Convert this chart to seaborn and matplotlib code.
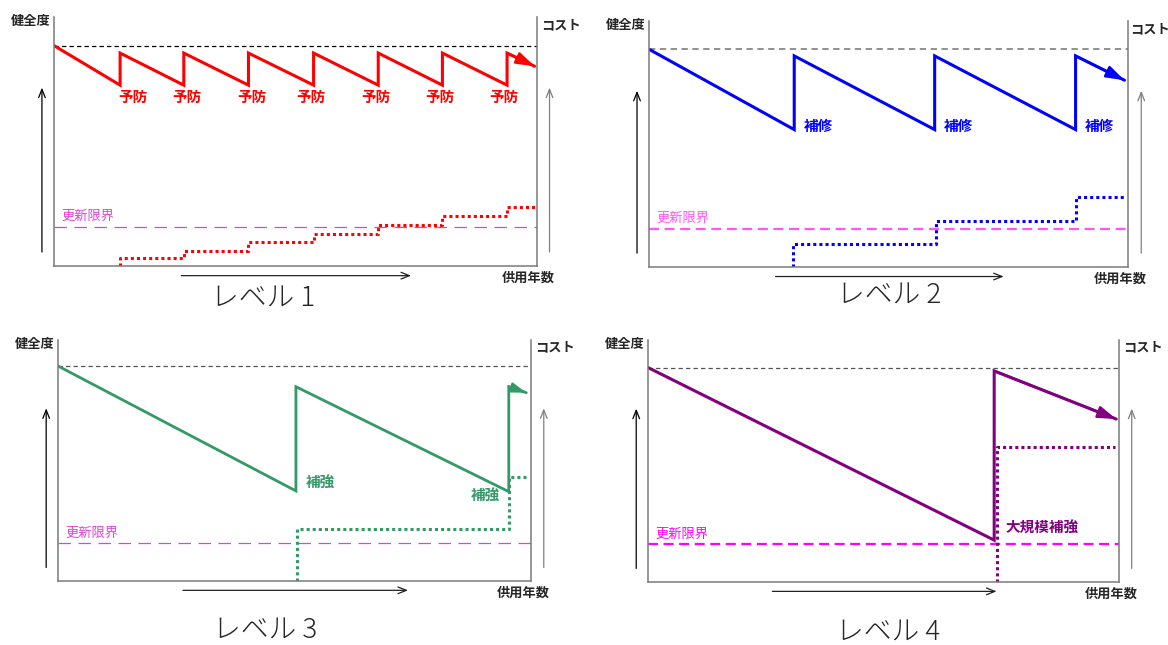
"""
plot.py
-------
Four schematic panels (レベル 1-4) showing how a structure's health (健全度)
falls over its service life (供用年数) and how maintenance resets it, with the
matching cumulative cost (コスト) drawn as a dotted step line.
"""

import matplotlib

matplotlib.use("Agg")
import matplotlib.pyplot as plt
import seaborn as sns

OUT_PATH = "out.png"
FIG_W, FIG_H = 1168, 645

# --- Level 1: frequent preventive maintenance (予防) ---
L1_HEALTH_X = [0, .137, .137, .269, .269, .403, .403, .538, .538, .672, .672, .805, .805, .939, .939, .996]
L1_HEALTH_Y = [.885, .726, .855, .726, .855, .726, .855, .726, .855, .726, .855, .726, .855, .726, .855, .802]
L1_COST_X = [.137, .137, .269, .403, .538, .672, .805, .939, .996]
L1_COST_Y = [0, .029, .060, .094, .127, .163, .201, .237, .237]
L1_LABEL = "予防"
L1_LABEL_X = [.133, .245, .380, .502, .637, .769, .903]
L1_LABEL_Y = [.679] * 7
L1_TOP, L1_LIMIT = .885, .154

# --- Level 2: repair (補修) ---
L2_HEALTH_X = [0, .303, .303, .596, .596, .890, .890, .992]
L2_HEALTH_Y = [.885, .558, .858, .558, .858, .558, .858, .759]
L2_COST_X = [.300, .300, .598, .890, .996]
L2_COST_Y = [0, .092, .188, .285, .285]
L2_LABEL = "補修"
L2_LABEL_X = [.323, .616, .910]
L2_LABEL_Y = [.572] * 3
L2_TOP, L2_LIMIT = .885, .153

# --- Level 3: strengthening (補強) ---
L3_HEALTH_X = [0, .503, .503, .953, .953, .990]
L3_HEALTH_Y = [.892, .373, .806, .370, .806, .781]
L3_COST_X = [.505, .505, .953, .990]
L3_COST_Y = [0, .213, .429, .429]
L3_LABEL = "補強"
L3_LABEL_X = [.524, .873]
L3_LABEL_Y = [.409, .356]
L3_TOP, L3_LIMIT = .892, .155

# --- Level 4: large-scale strengthening (大規模補強) ---
L4_HEALTH_X = [0, .735, .735, .994]
L4_HEALTH_Y = [.886, .172, .872, .673]
L4_COST_X = [.741, .741, .992]
L4_COST_Y = [0, .559, .559]
L4_LABEL = "大規模補強"
L4_LABEL_X = [.758]
L4_LABEL_Y = [.225]
L4_TOP, L4_LIMIT = .886, .154

TITLES = ["レベル 1", "レベル 2", "レベル 3", "レベル 4"]
Y_LABEL, COST_LABEL, X_LABEL, LIMIT_LABEL = "健全度", "コスト", "供用年数", "更新限界"


def draw_panel(fig, box, p):
    """box = (left, top, right, bottom) of the spines in figure pixels."""
    left, top, right, bottom = box
    ax = fig.add_axes([left / FIG_W, 1 - bottom / FIG_H,
                       (right - left) / FIG_W, (bottom - top) / FIG_H])
    ax.set_xlim(0, 1)
    ax.set_ylim(0, 1)
    ax.set_xticks([])
    ax.set_yticks([])
    ax.set_xlabel("")
    ax.set_ylabel("")
    ax.spines["top"].set_visible(False)
    for side in ("left", "right", "bottom"):
        ax.spines[side].set_color("#7a7a7a")
        ax.spines[side].set_linewidth(1.1)

    # initial-health reference and renewal threshold
    ax.axhline(p["top"], color=p["top_color"], lw=p["top_lw"], ls=(0, (3.5, 2.5)))
    ax.axhline(p["limit"], color=p["limit_color"], lw=p["limit_lw"], ls=p["limit_ls"])

    c = p["color"]
    sns.lineplot(x=p["hx"], y=p["hy"], ax=ax, color=c, lw=p["lw"], estimator=None,
                 sort=False, errorbar=None, solid_joinstyle="miter")
    sns.lineplot(x=p["cx"], y=p["cy"], ax=ax, color=c, lw=2.2, estimator=None,
                 sort=False, errorbar=None, drawstyle="steps-post", linestyle=(0, (1, 1)))
    head = p["head"]
    ax.annotate("", xy=(p["hx"][-1], p["hy"][-1]), xytext=(p["hx"][-2], p["hy"][-2]),
                arrowprops=dict(arrowstyle=f"-|>,head_length={head},head_width={head * 0.33}",
                                color=c, lw=p["lw"] * 0.8, shrinkA=0, shrinkB=0,
                                mutation_scale=20))

    for lx, ly in zip(p["label_x"], p["label_y"]):
        ax.text(lx, ly, p["label"], color=c, fontsize=10.5, fontweight="bold",
                ha="left", va="center")
    ax.text(0.016, p["limit"] + 0.043, LIMIT_LABEL, color=p["limit_color"],
            fontsize=9.5, ha="left", va="center")

    # axis captions outside the box
    ax.text(-0.008, 0.982, Y_LABEL, transform=ax.transAxes, fontsize=9.5,
            fontweight="bold", ha="right", va="center")
    ax.text(p["cost_x"], 0.968, COST_LABEL, transform=ax.transAxes, fontsize=9.5,
            fontweight="bold", ha="left", va="center")
    ax.text(0.984, -0.05, X_LABEL, transform=ax.transAxes, fontsize=9.5,
            fontweight="bold", ha="center", va="center")
    ax.text(p["title_x"], p["title_y"], p["title"], transform=ax.transAxes,
            fontsize=20, fontweight="light", ha="center", va="center")

    # direction arrows around the box
    arrow = dict(arrowstyle="->,head_length=0.5,head_width=0.2", lw=0.9, shrinkA=0, shrinkB=0)
    ax.annotate("", xy=(-0.025, 0.716), xytext=(-0.025, 0.055), xycoords="axes fraction",
                arrowprops=dict(arrow, color="black"), annotation_clip=False)
    ax.annotate("", xy=(1.027, 0.716), xytext=(1.027, 0.055), xycoords="axes fraction",
                arrowprops=dict(arrow, color="#808080"), annotation_clip=False)
    ax.annotate("", xy=(0.740, -0.04), xytext=(0.264, -0.04), xycoords="axes fraction",
                arrowprops=dict(arrow, color="#222222"), annotation_clip=False)
    return ax


def main():
    sns.set_theme(style="white")
    plt.rcParams["font.family"] = ["Noto Sans CJK JP", "DejaVu Sans"]

    panels = [
        dict(hx=L1_HEALTH_X, hy=L1_HEALTH_Y, cx=L1_COST_X, cy=L1_COST_Y,
             label=L1_LABEL, label_x=L1_LABEL_X, label_y=L1_LABEL_Y,
             top=L1_TOP, limit=L1_LIMIT, color="#ff0000", lw=2.2, head=0.55,
             top_color="black", top_lw=0.9,
             limit_color="#e040e0", limit_lw=0.9, limit_ls=(0, (10, 6)),
             title=TITLES[0], title_x=0.433, title_y=-0.13, cost_x=1.009),
        dict(hx=L2_HEALTH_X, hy=L2_HEALTH_Y, cx=L2_COST_X, cy=L2_COST_Y,
             label=L2_LABEL, label_x=L2_LABEL_X, label_y=L2_LABEL_Y,
             top=L2_TOP, limit=L2_LIMIT, color="#0000ff", lw=2.2, head=0.55,
             top_color="#888888", top_lw=1.3,
             limit_color="#ff55ff", limit_lw=1.6, limit_ls=(0, (4.5, 2.5)),
             title=TITLES[1], title_x=0.50, title_y=-0.115, cost_x=1.003),
        dict(hx=L3_HEALTH_X, hy=L3_HEALTH_Y, cx=L3_COST_X, cy=L3_COST_Y,
             label=L3_LABEL, label_x=L3_LABEL_X, label_y=L3_LABEL_Y,
             top=L3_TOP, limit=L3_LIMIT, color="#339966", lw=2.0, head=0.45,
             top_color="#555555", top_lw=0.9,
             limit_color="#e040e0", limit_lw=0.9, limit_ls=(0, (10, 6)),
             title=TITLES[2], title_x=0.437, title_y=-0.205, cost_x=1.009),
        dict(hx=L4_HEALTH_X, hy=L4_HEALTH_Y, cx=L4_COST_X, cy=L4_COST_Y,
             label=L4_LABEL, label_x=L4_LABEL_X, label_y=L4_LABEL_Y,
             top=L4_TOP, limit=L4_LIMIT, color="#800080", lw=2.2, head=0.55,
             top_color="#555555", top_lw=0.9,
             limit_color="#ff00ff", limit_lw=1.6, limit_ls=(0, (4.5, 2.5)),
             title=TITLES[3], title_x=0.51, title_y=-0.207, cost_x=1.009),
    ]
    # spine boxes (left, top, right, bottom) in figure pixels
    boxes = [(54, 17, 536.5, 265.7), (649, 21, 1128.3, 266.7),
             (58, 340, 531, 580.7), (648, 340, 1119, 581.7)]

    fig = plt.figure(figsize=(FIG_W / 100, FIG_H / 100), dpi=100)
    fig.patch.set_facecolor("white")
    for box, p in zip(boxes, panels):
        draw_panel(fig, box, p)

    fig.savefig(OUT_PATH, dpi=100, facecolor="white")
    plt.close(fig)


if __name__ == "__main__":
    main()
